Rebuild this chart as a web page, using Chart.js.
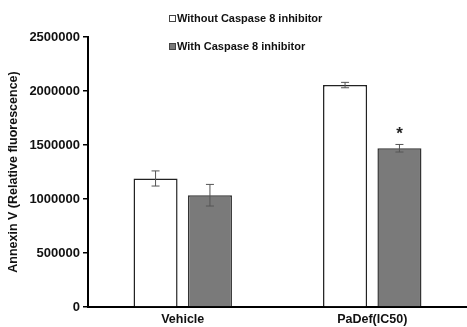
<!DOCTYPE html>
<html>
<head>
<meta charset="utf-8">
<script src="https://cdn.jsdelivr.net/npm/chart.js@4.4.0/dist/chart.umd.min.js"></script>
<style>
  html, body { margin: 0; padding: 0; background: #fff; }
  #wrap { width: 467px; height: 327px; position: relative; }
</style>
</head>
<body>
<div id="wrap"><canvas id="annexinChart"></canvas></div>
<script>
const ctx = document.getElementById('annexinChart');

const categories = ['Vehicle', 'PaDef(IC50)'];
const withoutInhibitor = [1190000, 2055000];
const withoutErr = [70000, 25000];
const withInhibitor = [1035000, 1470000];
const withErr = [100000, 35000];
const withMarks = ['', '*'];
const yTicks = [0, 500000, 1000000, 1500000, 2000000, 2500000];

const FONT = 'Liberation Sans, Arial, sans-serif';

// error bars + significance marks
const errorBars = {
    id: 'errorBars',
    afterDatasetsDraw(chart) {
        const c = chart.ctx;
        const y = chart.scales.y;
        chart.data.datasets.forEach((ds, di) => {
            const meta = chart.getDatasetMeta(di);
            meta.data.forEach((bar, i) => {
                const v = ds.data[i], e = ds.err[i];
                const yt = y.getPixelForValue(v + e);
                const yb = y.getPixelForValue(v - e);
                c.save();
                c.strokeStyle = '#555';
                c.lineWidth = 1;
                c.beginPath();
                c.moveTo(bar.x, yt); c.lineTo(bar.x, yb);
                c.moveTo(bar.x - 4, yt); c.lineTo(bar.x + 4, yt);
                c.moveTo(bar.x - 4, yb); c.lineTo(bar.x + 4, yb);
                c.stroke();
                if (ds.marks && ds.marks[i]) {
                    c.fillStyle = '#222';
                    c.font = 'bold 17px ' + FONT;
                    c.textAlign = 'center';
                    c.textBaseline = 'middle';
                    c.fillText(ds.marks[i], bar.x, yt - 10);
                }
                c.restore();
            });
        });
    }
};

// stacked legend inside the top of the plot
const stackedLegend = {
    id: 'stackedLegend',
    afterDraw(chart) {
        const c = chart.ctx;
        const rows = [19, 47];
        chart.data.datasets.forEach((ds, di) => {
            const yy = rows[di];
            c.save();
            c.fillStyle = ds.backgroundColor;
            c.strokeStyle = '#444';
            c.lineWidth = 1;
            c.fillRect(169.5, yy - 3.5, 6, 6);
            c.strokeRect(169.5, yy - 3.5, 6, 6);
            c.fillStyle = '#111';
            c.font = 'bold 11px ' + FONT;
            c.textAlign = 'left';
            c.textBaseline = 'middle';
            c.fillText(ds.label, 177, yy);
            c.restore();
        });
    }
};

new Chart(ctx, {
    type: 'bar',
    data: {
        labels: categories,
        datasets: [{
            label: 'Without Caspase 8 inhibitor',
            data: withoutInhibitor,
            err: withoutErr,
            backgroundColor: '#ffffff',
            borderColor: '#222',
            borderWidth: 1.5,
            categoryPercentage: 0.574,
            barPercentage: 0.81
        }, {
            label: 'With Caspase 8 inhibitor',
            data: withInhibitor,
            err: withErr,
            marks: withMarks,
            backgroundColor: '#7a7a7a',
            borderColor: '#333',
            borderWidth: 1.5,
            categoryPercentage: 0.574,
            barPercentage: 0.81
        }]
    },
    options: {
        responsive: true,
        maintainAspectRatio: false,
        animation: false,
        layout: { padding: { top: 37, left: 6, right: 0, bottom: 0 } },
        plugins: {
            legend: { display: false },
            tooltip: { enabled: false }
        },
        scales: {
            x: {
                grid: { display: false, drawTicks: false },
                border: { color: '#000', width: 2 },
                ticks: { color: '#111', font: { family: FONT, size: 12.5, weight: 'bold' }, padding: 5 },
                afterFit(s) { s.height = 20; }
            },
            y: {
                min: 0,
                max: 2500000,
                afterBuildTicks(s) { s.ticks = yTicks.map(v => ({ value: v })); },
                grid: { drawOnChartArea: false, tickLength: 5, color: '#000', lineWidth: 1.5 },
                border: { color: '#000', width: 2 },
                ticks: {
                    color: '#111',
                    font: { family: FONT, size: 13, weight: 'bold' },
                    padding: 3,
                    callback: v => String(v)
                },
                title: {
                    display: true,
                    text: 'Annexin V (Relative fluorescence)',
                    color: '#111',
                    font: { family: FONT, size: 12.5, weight: 'bold' },
                    padding: { top: 0, bottom: 4 }
                },
                afterFit(s) { s.width = 82; }
            }
        }
    },
    plugins: [errorBars, stackedLegend]
});
</script>
</body>
</html>
